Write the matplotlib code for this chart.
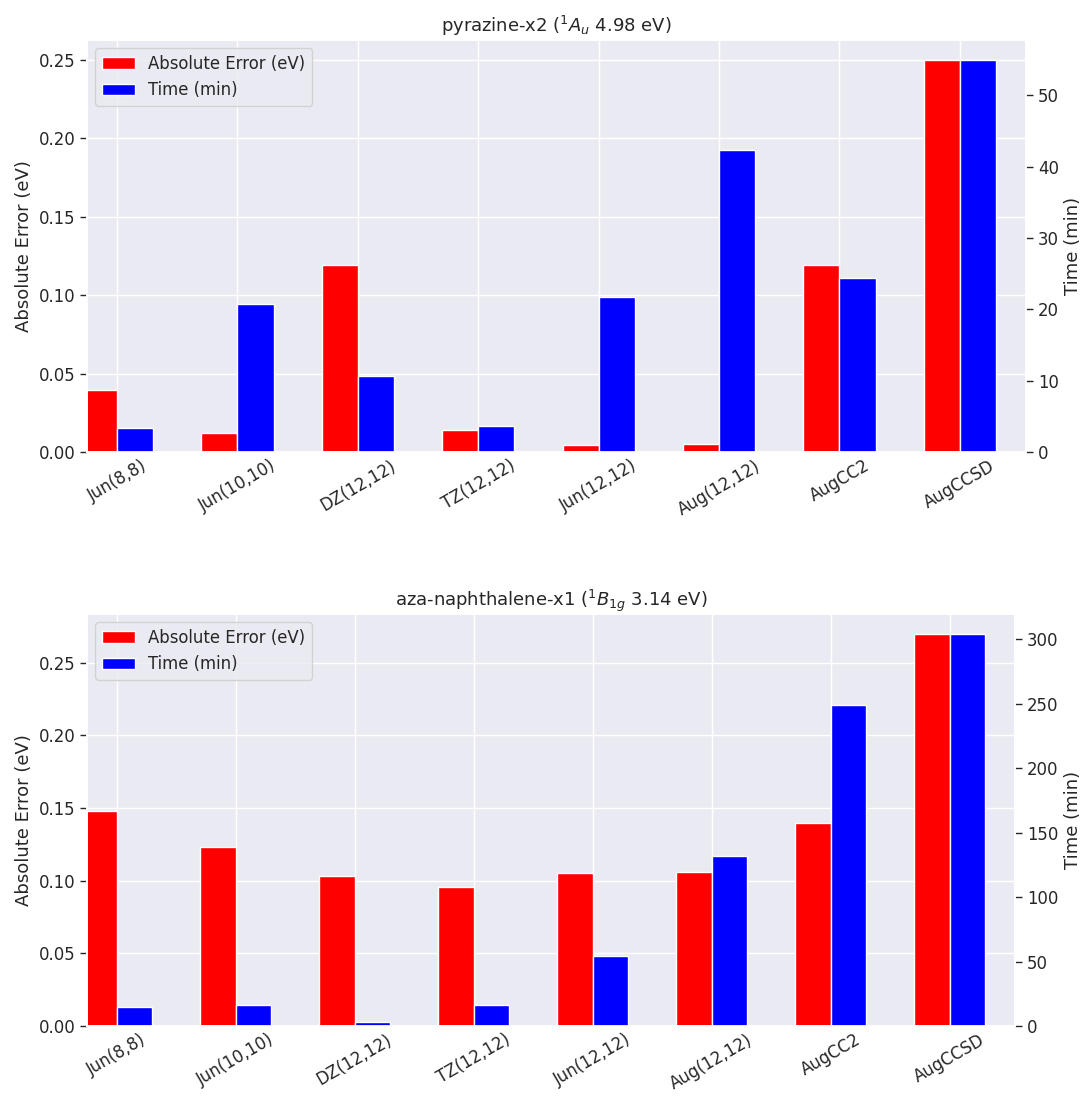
import numpy as np
import matplotlib
matplotlib.use("Agg")
import matplotlib.pyplot as plt
import seaborn as sns
from matplotlib.patches import Patch

# Active-space / method labels shared by both panels
methods = ["Jun(8,8)", "Jun(10,10)", "DZ(12,12)", "TZ(12,12)",
           "Jun(12,12)", "Aug(12,12)", "AugCC2", "AugCCSD"]

# pyrazine-x2 excitation
pyrazine_error = [0.0395, 0.0124, 0.119, 0.0143, 0.0043, 0.0051, 0.1193, 0.25]
pyrazine_time = [3.4, 20.8, 10.6, 3.65, 21.7, 42.3, 24.4, 55.0]

# aza-naphthalene-x1 excitation
aza_error = [0.148, 0.123, 0.1035, 0.0955, 0.105, 0.106, 0.1395, 0.27]
aza_time = [15.0, 16.0, 2.9, 16.0, 54.0, 132.0, 249.0, 304.5]

titles = [r"pyrazine-x2 ($^1A_u$ 4.98 eV)",
          r"aza-naphthalene-x1 ($^1B_{1g}$ 3.14 eV)"]

sns.set_theme(style="darkgrid")
plt.rcParams["font.family"] = ["DejaVu Sans"]

TICK_FS = 11.9
LABEL_FS = 13
TEXT_COLOR = "#262626"

W, H = 1082, 1097
fig = plt.figure(figsize=(W / 100, H / 100), dpi=100)


def px_axes(left, top, right, bottom):
    return fig.add_axes([left / W, 1 - bottom / H, (right - left) / W,
                         (bottom - top) / H])


axes = [px_axes(87, 40, 1026, 452), px_axes(87, 614, 1015, 1026)]

width = 0.3
x = np.arange(len(methods))

panels = [(pyrazine_error, pyrazine_time), (aza_error, aza_time)]
for ax, (err, tm), title in zip(axes, panels, titles):
    ax2 = ax.twinx()
    ax.bar(x, err, width=-width, align="edge", color="red",
           edgecolor="white", linewidth=1.0)
    ax2.bar(x, tm, width=width, align="edge", color="blue",
            edgecolor="white", linewidth=1.0)
    ax2.grid(False)
    ax.set_xlim(-0.25, len(methods) - 1 + 0.25 + width)

    ax.set_xticks(x)
    ax.set_xticklabels(methods, rotation=30, ha="center", fontsize=TICK_FS,
                       color=TEXT_COLOR)
    ax.tick_params(axis="x", bottom=False, length=0, pad=3.5)
    ax.tick_params(axis="y", left=True, length=5, width=1.0,
                   color=TEXT_COLOR, labelsize=TICK_FS, labelcolor=TEXT_COLOR)
    ax2.tick_params(axis="y", right=True, length=5, width=1.0,
                    color=TEXT_COLOR, labelsize=TICK_FS, labelcolor=TEXT_COLOR)

    ax.set_ylabel("Absolute Error (eV)", fontsize=LABEL_FS, color=TEXT_COLOR)
    ax2.set_ylabel("Time (min)", fontsize=LABEL_FS, color=TEXT_COLOR)
    ax.set_title(title, fontsize=LABEL_FS, color=TEXT_COLOR)

    handles = [Patch(facecolor="red", edgecolor="white", label="Absolute Error (eV)"),
               Patch(facecolor="blue", edgecolor="white", label="Time (min)")]
    ax2.legend(handles=handles, loc="upper left", fontsize=TICK_FS,
               frameon=True, facecolor="#EAEAF2", edgecolor="0.8",
               labelcolor=TEXT_COLOR)

fig.savefig("out.png", dpi=100)
